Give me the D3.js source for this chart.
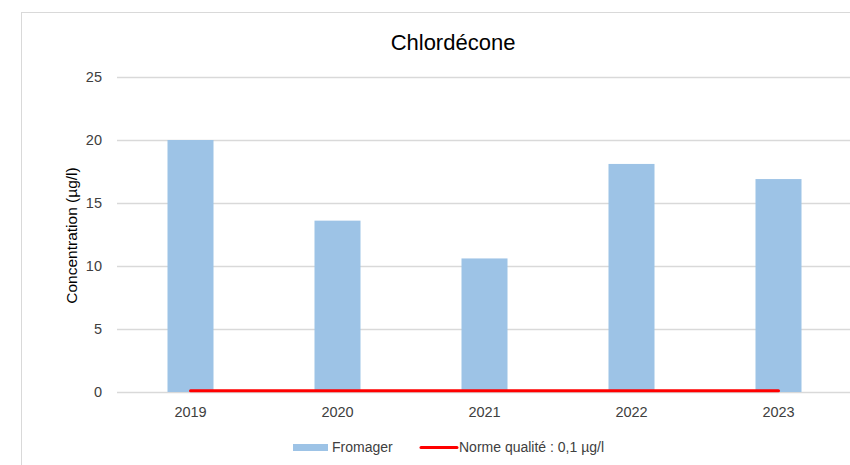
<!DOCTYPE html>
<html>
<head>
<meta charset="utf-8">
<script src="https://cdn.jsdelivr.net/npm/d3@7"></script>
<style>
  body { margin: 0; background: #fff; }
  text { font-family: "Liberation Sans", "DejaVu Sans", sans-serif; fill: #404040; }
</style>
</head>
<body>
<div id="wrapper"></div>
<script>
const years = ["2019", "2020", "2021", "2022", "2023"]
const fromager = [20, 13.6, 10.6, 18.1, 16.9]
const norme = [0.1, 0.1, 0.1, 0.1, 0.1]
const yTicks = [0, 5, 10, 15, 20, 25]

let dimensions = {
  width: 850,
  height: 465,
  margin: { top: 77, right: -2, bottom: 73, left: 117 },
}
dimensions.boundedWidth = dimensions.width - dimensions.margin.left - dimensions.margin.right
dimensions.boundedHeight = dimensions.height - dimensions.margin.top - dimensions.margin.bottom

const wrapper = d3.select("#wrapper")
  .append("svg")
  .attr("width", dimensions.width)
  .attr("height", dimensions.height)

// chart frame
wrapper.append("rect")
  .attr("x", 21.5)
  .attr("y", 12.5)
  .attr("width", 900)
  .attr("height", 600)
  .attr("fill", "#fff")
  .attr("stroke", "#d9d9d9")

wrapper.append("text")
  .attr("x", 453)
  .attr("y", 50)
  .attr("text-anchor", "middle")
  .style("font-size", "22px")
  .style("fill", "#000")
  .text("Chlordécone")

const bounds = wrapper.append("g")
  .attr("transform", `translate(${dimensions.margin.left}, ${dimensions.margin.top})`)

const xScale = d3.scaleBand()
  .domain(years)
  .range([0, dimensions.boundedWidth])
  .paddingInner(0.687)
  .paddingOuter(0.3435)

const yScale = d3.scaleLinear()
  .domain([0, 25])
  .range([dimensions.boundedHeight, 0])

// gridlines
bounds.append("g")
  .selectAll("line")
  .data(yTicks)
  .join("line")
  .attr("x1", 0)
  .attr("x2", dimensions.boundedWidth)
  .attr("y1", d => Math.round(yScale(d)) + 0.5)
  .attr("y2", d => Math.round(yScale(d)) + 0.5)
  .attr("stroke", "#d9d9d9")
  .attr("stroke-width", 1.3)

const yAxis = bounds.append("g")
  .call(d3.axisLeft(yScale).tickValues(yTicks).tickSize(0).tickPadding(15))
yAxis.select(".domain").remove()
yAxis.selectAll("text").style("font-size", "14.5px").style("fill", "#404040")

bounds.selectAll("rect.bar")
  .data(fromager)
  .join("rect")
  .attr("class", "bar")
  .attr("x", (d, i) => xScale(years[i]))
  .attr("y", d => yScale(d))
  .attr("width", xScale.bandwidth())
  .attr("height", d => dimensions.boundedHeight - yScale(d))
  .attr("fill", "#9dc3e6")

const lineGenerator = d3.line()
  .x((d, i) => xScale(years[i]) + xScale.bandwidth() / 2)
  .y(d => yScale(d))

bounds.append("path")
  .attr("d", lineGenerator(norme))
  .attr("fill", "none")
  .attr("stroke", "#ff0000")
  .attr("stroke-width", 3)
  .attr("stroke-linecap", "round")

const xAxis = bounds.append("g")
  .attr("transform", `translate(0, ${dimensions.boundedHeight})`)
  .call(d3.axisBottom(xScale).tickSize(0).tickPadding(15))
xAxis.select(".domain").remove()
xAxis.selectAll("text").style("font-size", "14.5px").style("fill", "#404040")

wrapper.append("text")
  .attr("transform", `translate(77, ${dimensions.margin.top + dimensions.boundedHeight / 2 + 1}) rotate(-90)`)
  .attr("text-anchor", "middle")
  .style("font-size", "15.5px")
  .style("fill", "#000")
  .text("Concentration (µg/l)")

// legend
const legend = wrapper.append("g").attr("transform", "translate(0, 447)")
legend.append("rect")
  .attr("x", 293).attr("y", -3)
  .attr("width", 35).attr("height", 7)
  .attr("fill", "#9dc3e6")
legend.append("text")
  .attr("x", 332).attr("y", 5)
  .style("font-size", "14px").style("fill", "#404040")
  .text("Fromager")
legend.append("line")
  .attr("x1", 421).attr("x2", 457)
  .attr("y1", 0.5).attr("y2", 0.5)
  .attr("stroke", "#ff0000").attr("stroke-width", 3)
  .attr("stroke-linecap", "round")
legend.append("text")
  .attr("x", 459).attr("y", 5)
  .style("font-size", "14px").style("fill", "#404040")
  .text("Norme qualité : 0,1 µg/l")
</script>
</body>
</html>
